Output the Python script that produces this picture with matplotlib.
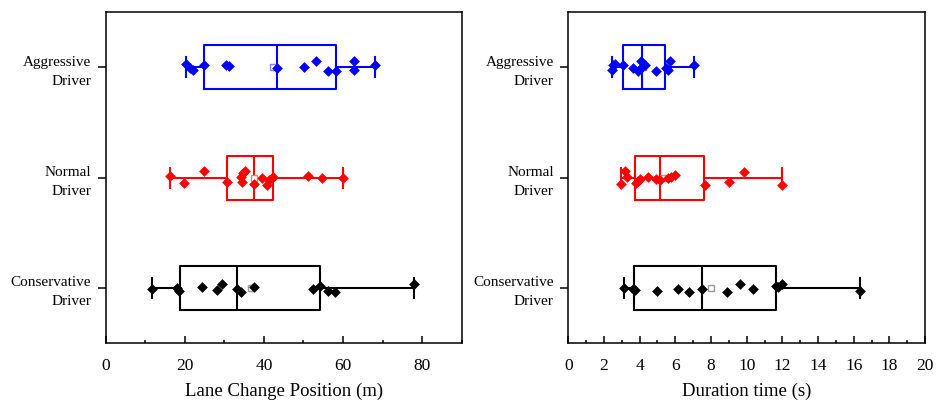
import matplotlib
matplotlib.use("Agg")
import matplotlib.pyplot as plt
import numpy as np
from matplotlib.ticker import MultipleLocator

plt.rcParams['font.family'] = ['Liberation Serif', 'DejaVu Serif']

groups = ['Conservative\nDriver', 'Normal\nDriver', 'Aggressive\nDriver']
colors = ['black', 'red', 'blue']
mean_colors = ['#999999', '#f08080', '#8080f0']

# Lane change position (m): raw points and y-jitter
pos_cons = [11.8, 17.9, 18.6, 24.3, 28.2, 29.5, 33.1, 34.1, 37.6, 52.5, 54.3, 56.2, 57.9, 77.9]
pos_cons_j = [-0.005, 0.0, -0.025, 0.005, -0.02, 0.035, -0.005, -0.04, 0.01, -0.005, 0.02, -0.025, -0.04, 0.04]
pos_norm = [16.3, 19.9, 24.8, 30.6, 34.4, 34.1, 34.8, 35.1, 37.6, 39.6, 40.9, 41.4, 42.0, 42.4, 51.2, 54.6, 59.9]
pos_norm_j = [0.015, -0.05, 0.06, -0.04, -0.035, 0.01, 0.04, 0.06, -0.06, -0.005, -0.07, -0.02, 0.0, 0.01, 0.015, 0.0, -0.005]
pos_aggr = [20.3, 21.3, 22.1, 24.8, 30.5, 31.2, 43.3, 50.2, 53.1, 56.1, 58.2, 62.8, 62.8, 68.0]
pos_aggr_j = [0.03, -0.01, -0.025, 0.02, 0.02, 0.01, -0.01, 0.005, 0.06, -0.03, -0.03, 0.055, -0.025, 0.02]

# box statistics: whislo, q1, med, q3, whishi, mean
pos_stats = [
    [11.8, 18.8, 33.1, 54.3, 77.9, 36.7],
    [16.3, 30.6, 37.5, 42.4, 59.9, 37.5],
    [20.4, 24.8, 43.3, 58.2, 68.0, 42.2],
]

# Duration time (s)
dur_cons = [3.12, 3.64, 3.74, 4.99, 6.17, 6.75, 7.48, 8.92, 9.63, 10.36, 11.63, 11.77, 11.97, 16.36]
dur_cons_j = [0.0, -0.005, -0.02, -0.03, -0.005, -0.04, -0.01, -0.04, 0.04, -0.005, 0.02, 0.005, 0.035, -0.025]
dur_norm = [2.94, 3.20, 3.29, 3.80, 3.89, 4.02, 4.49, 4.90, 5.16, 5.57, 5.76, 5.98, 7.65, 8.99, 9.83, 12.0]
dur_norm_j = [-0.06, 0.065, 0.01, -0.05, -0.03, -0.01, 0.01, -0.01, -0.02, 0.0, 0.01, 0.025, -0.07, -0.04, 0.05, -0.07]
dur_aggr = [2.43, 2.52, 2.62, 3.08, 3.64, 3.89, 4.08, 4.13, 4.30, 4.93, 5.46, 5.57, 5.72, 7.05]
dur_aggr_j = [-0.025, 0.02, 0.035, 0.02, -0.01, -0.03, 0.06, 0.005, 0.02, -0.03, -0.01, -0.025, 0.055, 0.02]

dur_stats = [
    [3.12, 3.68, 7.48, 11.65, 16.36, 7.98],
    [2.94, 3.76, 5.16, 7.63, 12.0, 5.3],
    [2.43, 3.08, 4.13, 5.41, 7.05, 4.2],
]


def draw_panel(ax, stats, pts, jit, xlim, major, minor, xlabel):
    for i, (s, c) in enumerate(zip(stats, colors)):
        st = dict(whislo=s[0], q1=s[1], med=s[2], q3=s[3], whishi=s[4], mean=s[5], fliers=[])
        ax.bxp([st], positions=[i + 1], widths=0.4, capwidths=0.18,
               orientation='horizontal', showmeans=True, showfliers=False,
               boxprops=dict(color=c, lw=1.5),
               medianprops=dict(color=c, lw=1.5),
               whiskerprops=dict(color=c, lw=1.5),
               capprops=dict(color=c, lw=1.5),
               meanprops=dict(marker='s', markersize=5, markerfacecolor='white',
                              markeredgecolor=mean_colors[i], markeredgewidth=1.0))
        ax.scatter(pts[i], np.array(jit[i]) + i + 1, marker='D', s=30,
                   color=c, zorder=5, linewidths=0)
    ax.set_ylim(0.5, 3.5)
    ax.set_xlim(*xlim)
    ax.set_yticks([1, 2, 3])
    ax.set_yticklabels(groups, fontsize=11, linespacing=1.6)
    ax.xaxis.set_major_locator(MultipleLocator(major))
    ax.xaxis.set_minor_locator(MultipleLocator(minor))
    ax.tick_params(axis='x', which='major', direction='in', length=5, width=1.1,
                   labelsize=12.5, pad=11)
    ax.tick_params(axis='x', which='minor', direction='in', length=2.5, width=1.1)
    ax.tick_params(axis='y', direction='out', length=5.5, width=1.1, pad=5)
    for sp in ax.spines.values():
        sp.set_linewidth(1.1)
    ax.set_xlabel(xlabel, fontsize=13.5, labelpad=6)


fig = plt.figure(figsize=(9.39, 4.08), dpi=100)
ax1 = fig.add_axes([0.1126, 0.159, 0.379, 0.811])
ax2 = fig.add_axes([0.6052, 0.159, 0.3800, 0.811])

draw_panel(ax1, pos_stats, [pos_cons, pos_norm, pos_aggr],
           [pos_cons_j, pos_norm_j, pos_aggr_j], (0, 90), 20, 10,
           'Lane Change Position (m)')
draw_panel(ax2, dur_stats, [dur_cons, dur_norm, dur_aggr],
           [dur_cons_j, dur_norm_j, dur_aggr_j], (0, 20), 2, 1,
           'Duration time (s)')

fig.savefig('out.png', dpi=100)
